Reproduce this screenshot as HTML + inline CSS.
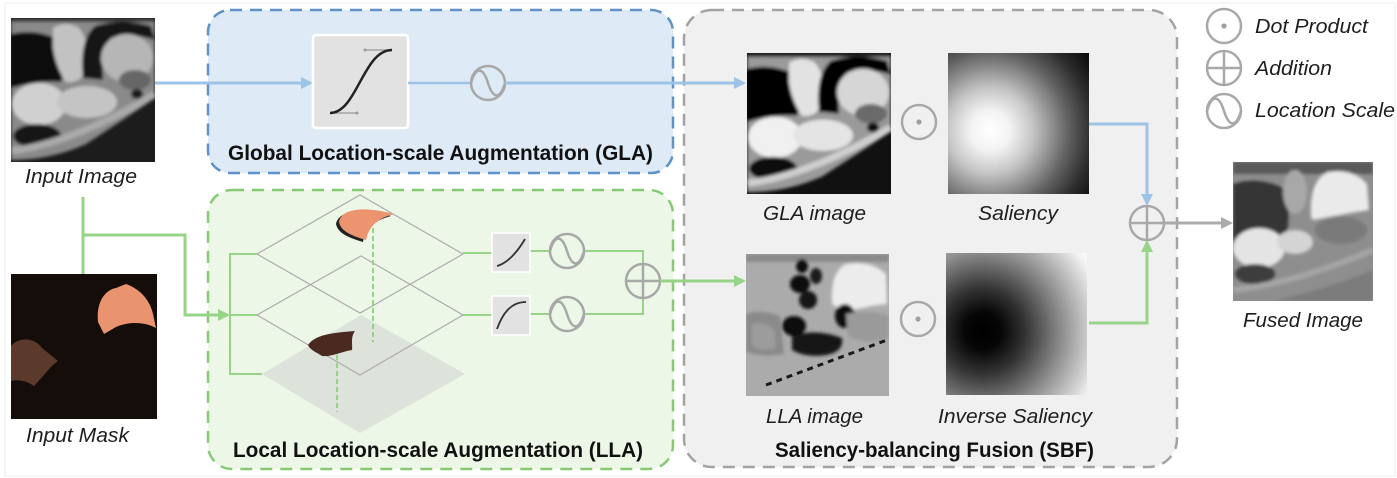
<!DOCTYPE html>
<html><head><meta charset="utf-8"><style>
html,body{margin:0;padding:0;background:#fff;}
svg{display:block;}
text{font-family:"Liberation Sans",Arial,sans-serif;}
.it{font-style:italic;font-size:20px;fill:#1e1e1e;}
.bd{font-weight:bold;font-size:21px;fill:#111;}
</style></head><body>
<svg width="1397" height="478" viewBox="0 0 1397 478" xmlns="http://www.w3.org/2000/svg">
<defs>
  <filter id="bl" x="-5%" y="-5%" width="110%" height="110%"><feGaussianBlur stdDeviation="1.5"/></filter>
  <clipPath id="c1"><rect x="11" y="18" width="144" height="144"/></clipPath>
  <clipPath id="c2"><rect x="747" y="53" width="144" height="141"/></clipPath>
  <clipPath id="c3"><rect x="746" y="254" width="143" height="142"/></clipPath>
  <clipPath id="c4"><rect x="1233" y="162" width="140" height="139"/></clipPath>
  <radialGradient id="sal" cx="0.3" cy="0.55" r="1" fx="0.3" fy="0.55">
    <stop offset="0" stop-color="#ffffff"/><stop offset="0.14" stop-color="#f3f3f3"/>
    <stop offset="0.3" stop-color="#c6c6c6"/><stop offset="0.55" stop-color="#636363"/>
    <stop offset="0.72" stop-color="#2c2c2c"/><stop offset="0.9" stop-color="#060606"/><stop offset="1" stop-color="#000"/>
  </radialGradient>
  <radialGradient id="isal" cx="0.26" cy="0.55" r="1" fx="0.26" fy="0.55">
    <stop offset="0" stop-color="#000"/><stop offset="0.13" stop-color="#060606"/>
    <stop offset="0.3" stop-color="#333"/><stop offset="0.55" stop-color="#8a8a8a"/>
    <stop offset="0.72" stop-color="#c2c2c2"/><stop offset="0.88" stop-color="#f6f6f6"/><stop offset="1" stop-color="#fff"/>
  </radialGradient>
</defs>

<rect x="0" y="0" width="1397" height="478" fill="#fff"/>
<rect x="5" y="3" width="1390" height="473" fill="none" stroke="#ececec" stroke-width="1"/>

<!-- Boxes -->
<rect x="208" y="10" width="465" height="163" rx="22" fill="#deeaf6" stroke="#5e92c8" stroke-width="2.5" stroke-dasharray="12 8"/>
<rect x="208" y="190" width="465" height="279" rx="24" fill="#ecf7e8" stroke="#86ca74" stroke-width="2.5" stroke-dasharray="12 8"/>
<rect x="684" y="10" width="493" height="457" rx="28" fill="#f0f0f0" stroke="#a3a3a3" stroke-width="2.5" stroke-dasharray="12 8"/>

<!-- Input image -->
<g clip-path="url(#c1)">
 <rect x="11" y="18" width="144" height="144" fill="#1c1c1c"/>
 <g transform="translate(11,18)" filter="url(#bl)">
  <path d="M0,0 H144 V80 Q115,100 75,126 Q40,142 0,142 Z" fill="#8a8a8a"/>
  <rect x="0" y="0" width="144" height="4" fill="#3a3a3a"/>
  <path d="M0,16 Q25,10 48,22 Q58,42 50,64 Q28,62 0,70 Z" fill="#111"/>
  <path d="M42,10 Q55,2 68,10 Q80,25 76,50 Q70,66 55,64 Q45,50 42,30 Z" fill="#c2c2c2"/>
  <path d="M72,60 Q68,22 84,8 Q110,0 140,8 L144,22 Q118,14 100,20 Q90,32 92,62 Z" fill="#121212"/>
  <ellipse cx="116" cy="40" rx="26" ry="24" fill="#b6b6b6"/>
  <ellipse cx="124" cy="62" rx="16" ry="10" fill="#666"/>
  <ellipse cx="126" cy="76" rx="6" ry="5" fill="#1a1a1a"/>
  <ellipse cx="28" cy="86" rx="27" ry="21" fill="#d0d0d0"/>
  <ellipse cx="76" cy="84" rx="30" ry="16" fill="#c4c4c4"/>
  <ellipse cx="26" cy="118" rx="24" ry="12" fill="#161616"/>
  <path d="M0,133 Q60,126 144,76" stroke="#aaa" stroke-width="7" fill="none"/>
 </g>
</g>
<text class="it" x="25" y="183" textLength="112" lengthAdjust="spacingAndGlyphs">Input Image</text>

<!-- Input mask -->
<rect x="11" y="274" width="146" height="145" fill="#150d09"/>
<path d="M98,322 C96,302 105,290 116,288 L126,284 C140,289 150,300 153,314 L156,328 C145,322 130,321 116,327 L104,334 Z" fill="#e9946e"/>
<path d="M11,346 C20,336 35,338 42,348 L58,361 C50,366 45,375 34,386 C27,381 18,379 11,381 Z" fill="#5b3a2c"/>
<text class="it" x="26" y="442" textLength="103" lengthAdjust="spacingAndGlyphs">Input Mask</text>

<!-- Green input connectors -->
<g stroke="#97d488" stroke-width="3" fill="none">
  <line x1="83" y1="197" x2="83" y2="274"/>
  <polyline points="83,235 185,235 185,315 220,315"/>
</g>
<polygon points="230,315 218,309 218,321" fill="#97d488"/>

<!-- GLA content -->
<line x1="155" y1="83" x2="303" y2="83" stroke="#9dc3e6" stroke-width="3"/>
<polygon points="313,83 301,77 301,89" fill="#9dc3e6"/>
<rect x="313" y="35" width="95" height="93" rx="3" fill="#e2e2e2" stroke="#fff" stroke-width="2.5"/>
<line x1="330" y1="113" x2="357" y2="113" stroke="#999" stroke-width="1.2"/>
<line x1="365" y1="50" x2="392" y2="50" stroke="#999" stroke-width="1.2"/>
<circle cx="357" cy="113" r="1.5" fill="#999"/><circle cx="365" cy="50" r="1.5" fill="#999"/>
<path d="M330,113 C357,113 363,50 392,50" stroke="#222" stroke-width="2.5" fill="none"/>
<line x1="408" y1="83" x2="471" y2="83" stroke="#9dc3e6" stroke-width="2.5"/>
<circle cx="488" cy="83" r="17" fill="none" stroke="#a8a8a8" stroke-width="2.5"/>
<path d="M471,83 C476,66 483,67 488,83 C493,99 500,100 505,83" fill="none" stroke="#a8a8a8" stroke-width="2.5"/>
<line x1="505" y1="83" x2="736" y2="83" stroke="#9dc3e6" stroke-width="3"/>
<polygon points="746,83 734,77 734,89" fill="#9dc3e6"/>
<text class="bd" x="228" y="160" textLength="425" lengthAdjust="spacingAndGlyphs">Global Location-scale Augmentation (GLA)</text>

<!-- LLA content -->
<polygon points="361,315 465,374 360,433 262,374" fill="#dde3da"/>
<g fill="none" stroke="#acacac" stroke-width="1.2">
  <polygon points="360,195 463,254 360,313 257,254"/>
  <polygon points="361,256 463,315 360,375 257,315"/>
</g>
<g stroke="#97d488" stroke-width="2" fill="none">
  <polyline points="257,254 230,254 230,374 262,374"/>
  <line x1="230" y1="315" x2="257" y2="315"/>
  <line x1="463" y1="253" x2="492" y2="253"/>
  <line x1="463" y1="315" x2="492" y2="315"/>
  <line x1="530" y1="251" x2="550" y2="251"/>
  <line x1="530" y1="314" x2="550" y2="314"/>
  <polyline points="584,251 643,251 643,264"/>
  <polyline points="584,314 643,314 643,298"/>
</g>
<g stroke="#8fd07c" stroke-width="1.8" stroke-dasharray="5 3">
  <line x1="373" y1="228" x2="373" y2="342"/>
  <line x1="337" y1="355" x2="337" y2="412"/>
</g>
<path d="M336,224 C338,212 358,206 391,216 C376,220 366,227 363,242 C350,238 338,234 336,224 Z" fill="#222"/>
<path d="M339,222 C341,210 360,205 394,214 C379,218 369,225 366,240 C353,236 341,232 339,222 Z" fill="#ec9470"/>
<path d="M308,345 C315,335 330,333 355,331 C350,338 353,345 352,350 C340,352 332,357 322,356 C316,352 310,350 308,345 Z" fill="#4a2a20"/>
<rect x="492" y="233" width="38" height="39" fill="#e2e2e2" stroke="#fff" stroke-width="1.5"/>
<path d="M497,266 C508,263 518,251 525,239" stroke="#333" stroke-width="1.8" fill="none"/>
<rect x="492" y="296" width="38" height="39" fill="#e2e2e2" stroke="#fff" stroke-width="1.5"/>
<path d="M497,329 C502,315 510,302 526,302" stroke="#333" stroke-width="1.8" fill="none"/>
<g fill="none" stroke="#a8a8a8" stroke-width="2.5">
  <circle cx="567" cy="251" r="17"/>
  <path d="M550,251 C555,234 562,235 567,251 C572,267 579,268 584,251"/>
  <circle cx="567" cy="314" r="17"/>
  <path d="M550,314 C555,297 562,298 567,314 C572,330 579,331 584,314"/>
  <circle cx="643" cy="281" r="17"/>
  <line x1="626" y1="281" x2="660" y2="281"/>
  <line x1="643" y1="264" x2="643" y2="298"/>
</g>
<line x1="660" y1="281" x2="736" y2="281" stroke="#97d488" stroke-width="3"/>
<polygon points="746,281 734,275 734,287" fill="#97d488"/>
<text class="bd" x="233" y="457" textLength="410" lengthAdjust="spacingAndGlyphs">Local Location-scale Augmentation (LLA)</text>

<!-- SBF content: GLA image -->
<g clip-path="url(#c2)">
 <rect x="747" y="53" width="144" height="141" fill="#111"/>
 <g transform="translate(747,53) scale(1,0.98)" filter="url(#bl)">
  <path d="M0,0 H144 V80 Q115,100 75,126 Q40,142 0,142 Z" fill="#9a9a9a"/>
  <rect x="0" y="0" width="144" height="4" fill="#222"/>
  <path d="M0,16 Q25,10 48,22 Q58,42 50,64 Q28,62 0,70 Z" fill="#050505"/>
  <path d="M42,10 Q55,2 68,10 Q80,25 76,50 Q70,66 55,64 Q45,50 42,30 Z" fill="#e2e2e2"/>
  <path d="M72,60 Q68,22 84,8 Q110,0 140,8 L144,22 Q118,14 100,20 Q90,32 92,62 Z" fill="#060606"/>
  <ellipse cx="116" cy="40" rx="26" ry="24" fill="#d6d6d6"/>
  <ellipse cx="124" cy="62" rx="16" ry="10" fill="#6a6a6a"/>
  <ellipse cx="126" cy="76" rx="6" ry="5" fill="#0a0a0a"/>
  <ellipse cx="28" cy="86" rx="27" ry="21" fill="#f0f0f0"/>
  <ellipse cx="76" cy="84" rx="30" ry="16" fill="#e4e4e4"/>
  <ellipse cx="26" cy="118" rx="24" ry="12" fill="#080808"/>
  <path d="M0,133 Q60,126 144,76" stroke="#cfcfcf" stroke-width="7" fill="none"/>
 </g>
</g>
<rect x="948" y="53" width="141" height="141" fill="url(#sal)"/>

<!-- LLA image -->
<g clip-path="url(#c3)">
 <rect x="746" y="254" width="143" height="142" fill="#ababab"/>
 <g transform="translate(746,254)" filter="url(#bl)">
    <rect width="143" height="8" fill="#8a8a8a"/>
    <path d="M0,60 Q15,55 34,62 L38,100 Q20,104 0,98 Z" fill="#8a8a8a"/>
    <path d="M6,70 Q18,66 28,76 L30,94 Q15,98 6,92 Z" fill="#9c9c9c"/>
    <ellipse cx="56" cy="12" rx="6" ry="7" fill="#111"/>
    <ellipse cx="54" cy="30" rx="10" ry="9" fill="#111"/>
    <ellipse cx="62" cy="46" rx="9" ry="9" fill="#151515"/>
    <ellipse cx="70" cy="22" rx="6" ry="8" fill="#1a1a1a"/>
    <path d="M86,50 Q84,18 100,10 Q125,6 140,20 L141,50 Q120,52 100,58 Z" fill="#ececec"/>
    <ellipse cx="99" cy="62" rx="10" ry="12" fill="#111"/>
    <ellipse cx="48" cy="72" rx="12" ry="10" fill="#111"/>
    <path d="M46,82 Q70,74 96,84 Q98,98 80,101 Q60,104 46,96 Z" fill="#121212"/>
    <path d="M100,60 Q125,55 143,62 L143,84 Q120,92 102,82 Z" fill="#9a9a9a"/>
 </g>
 <path d="M766,385 L887,340" stroke="#1a1a1a" stroke-width="3" stroke-dasharray="6 5" fill="none"/>
</g>
<rect x="946" y="253" width="141" height="142" fill="url(#isal)"/>
<g fill="none" stroke="#a8a8a8" stroke-width="2.5">
  <circle cx="919" cy="122" r="17"/>
  <circle cx="918" cy="319" r="17"/>
</g>
<circle cx="919" cy="122" r="2.6" fill="#a0a0a0"/>
<circle cx="918" cy="319" r="2.6" fill="#a0a0a0"/>
<text class="it" x="763" y="220" textLength="103" lengthAdjust="spacingAndGlyphs">GLA image</text>
<text class="it" x="978" y="220" textLength="80" lengthAdjust="spacingAndGlyphs">Saliency</text>
<text class="it" x="766" y="423" textLength="97" lengthAdjust="spacingAndGlyphs">LLA image</text>
<text class="it" x="938" y="423" textLength="154" lengthAdjust="spacingAndGlyphs">Inverse Saliency</text>
<text class="bd" x="775" y="457" textLength="319" lengthAdjust="spacingAndGlyphs">Saliency-balancing Fusion (SBF)</text>

<!-- Fusion connectors -->
<polyline points="1089,124 1147,124 1147,196" fill="none" stroke="#9dc3e6" stroke-width="3"/>
<polygon points="1147,206 1141,194 1153,194" fill="#9dc3e6"/>
<polyline points="1089,323 1147,323 1147,250" fill="none" stroke="#97d488" stroke-width="3"/>
<polygon points="1147,240 1141,252 1153,252" fill="#97d488"/>
<g fill="none" stroke="#a8a8a8" stroke-width="2.5">
  <circle cx="1147" cy="223" r="17"/>
  <line x1="1130" y1="223" x2="1164" y2="223"/>
  <line x1="1147" y1="206" x2="1147" y2="240"/>
</g>
<line x1="1164" y1="223" x2="1223" y2="223" stroke="#ababab" stroke-width="3"/>
<polygon points="1233,223 1221,217 1221,229" fill="#ababab"/>

<!-- Fused image -->
<g clip-path="url(#c4)">
  <rect x="1233" y="162" width="140" height="139" fill="#8e8e8e"/>
  <g transform="translate(1233,162)" filter="url(#bl)">
    <rect width="140" height="12" fill="#5a5a5a"/>
    <path d="M0,22 Q25,14 50,26 Q60,50 52,78 Q25,76 0,82 Z" fill="#343434"/>
    <ellipse cx="62" cy="30" rx="12" ry="22" fill="#a8a8a8"/>
    <path d="M78,55 Q76,18 95,10 Q120,6 134,22 L136,48 Q110,52 80,58 Z" fill="#eaeaea"/>
    <ellipse cx="108" cy="68" rx="26" ry="14" fill="#7a7a7a"/>
    <ellipse cx="26" cy="86" rx="26" ry="20" fill="#e4e4e4"/>
    <ellipse cx="62" cy="80" rx="18" ry="12" fill="#d4d4d4"/>
    <ellipse cx="22" cy="112" rx="20" ry="10" fill="#3c3c3c"/>
    <path d="M0,128 Q60,122 140,88" stroke="#a5a5a5" stroke-width="6" fill="none"/>
    <path d="M40,139 Q90,128 140,108 L140,139 Z" fill="#7c7c7c"/>
  </g>
</g>
<text class="it" x="1243" y="327" textLength="120" lengthAdjust="spacingAndGlyphs">Fused Image</text>

<!-- Legend -->
<g fill="none" stroke="#a8a8a8" stroke-width="2.5">
  <circle cx="1224" cy="26" r="17"/>
  <circle cx="1224" cy="68" r="17"/>
  <line x1="1207" y1="68" x2="1241" y2="68"/>
  <line x1="1224" y1="51" x2="1224" y2="85"/>
  <circle cx="1224" cy="111" r="17"/>
  <path d="M1207,111 C1212,94 1219,95 1224,111 C1229,127 1236,128 1241,111"/>
</g>
<circle cx="1224" cy="26" r="2.6" fill="#a0a0a0"/>
<text class="it" x="1255" y="33" textLength="113" lengthAdjust="spacingAndGlyphs">Dot Product</text>
<text class="it" x="1255" y="75" textLength="77" lengthAdjust="spacingAndGlyphs">Addition</text>
<text class="it" x="1255" y="117" textLength="140" lengthAdjust="spacingAndGlyphs">Location Scale</text>
</svg>
</body></html>
